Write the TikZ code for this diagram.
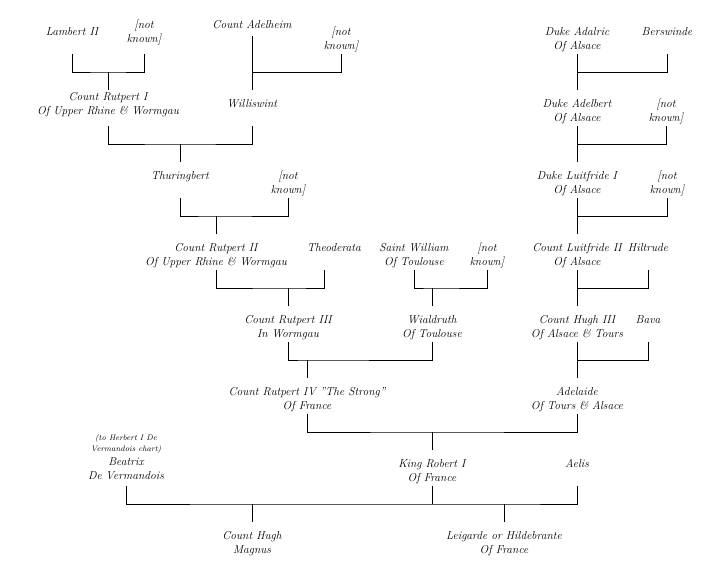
\documentclass[tikz,border=0pt]{standalone}
\usepackage{fontspec}
\newcommand\twoln[3][0]{\rule[-4.2pt]{0pt}{\dimexpr 22pt-#1pt\relax}#2\\\rule[\dimexpr-4.2pt-#1pt\relax]{0pt}{\dimexpr 14pt+#1pt\relax}#3}
\tikzset{
  person/.style={inner sep=0pt, outer sep=0pt, anchor=north, align=center,
    font=\fontsize{11.5}{14}\selectfont\itshape},
  notetext/.style={inner sep=0pt, outer sep=0pt, align=center,
    font=\fontsize{8}{11}\selectfont\itshape},
  link/.style={draw=black, line width=0.9pt}
}
\begin{document}
\begin{tikzpicture}[x=1pt,y=-1pt]
\fill[white] (0,0) rectangle (720,576);
\useasboundingbox (0,0) rectangle (720,576);
% row 1
\node[person] (lambert) at (72,18) {\twoln{Lambert II}{}};
\node[person] (nk1) at (144,18) {\twoln[7]{[not}{known]}};
\node[person, anchor=base] (adelheim) at (252,28.5) {\rule[-7.5pt]{0pt}{17pt}Count Adelheim};
\node[person] (nk2) at (341,18) {\twoln{[not}{known]}};
\node[person] (adalric) at (577,18) {\twoln{Duke Adalric}{Of Alsace}};
\node[person] (berswinde) at (667,18) {\twoln{Berswinde}{}};
% row 2
\node[person] (rutpert1) at (108,90) {\twoln[7]{Count Rutpert I}{Of Upper Rhine \& Wormgau}};
\node[person] (williswint) at (252,90) {\twoln{Williswint}{}};
\node[person] (adelbert) at (577,90) {\twoln{Duke Adelbert}{Of Alsace}};
\node[person] (nk3) at (666,90) {\twoln{[not}{known]}};
% row 3
\node[person] (thuringbert) at (180,162) {\twoln{Thuringbert}{}};
\node[person] (nk4) at (288,162) {\twoln{[not}{known]}};
\node[person] (luitfride1) at (577,162) {\twoln{Duke Luitfride I}{Of Alsace}};
\node[person] (nk5) at (667,162) {\twoln{[not}{known]}};
% row 4
\node[person] (rutpert2) at (216,234) {\twoln{Count Rutpert II}{Of Upper Rhine \& Wormgau}};
\node[person] (theoderata) at (334,234) {\twoln{Theoderata}{}};
\node[person] (william) at (414,234) {\twoln{Saint William}{Of Toulouse}};
\node[person] (nk6) at (487,234) {\twoln{[not}{known]}};
\node[person] (luitfride2) at (577,234) {\twoln{Count Luitfride II}{Of Alsace}};
\node[person] (hiltrude) at (648,234) {\twoln{Hiltrude}{}};
% row 5
\node[person] (rutpert3) at (288,306) {\twoln{Count Rutpert III}{In Wormgau}};
\node[person] (wialdruth) at (432,306) {\twoln{Wialdruth}{Of Toulouse}};
\node[person] (hugh3) at (577,306) {\twoln{Count Hugh III}{Of Alsace \& Tours}};
\node[person] (bava) at (648,306) {\twoln{Bava}{}};
% row 6
\node[person] (rutpert4) at (307,378) {\twoln{Count Rutpert IV "The Strong"}{Of France}};
\node[person] (adelaide) at (577,378) {\twoln{Adelaide}{Of Tours \& Alsace}};
% row 7
\node[notetext] (note) at (126,444) {(to Herbert I De\\Vermandois chart)};
\node[person] (beatrix) at (126,450) {\twoln[2]{Beatrix}{De Vermandois}};
\node[person] (robert) at (432,450) {\twoln{King Robert I}{Of France}};
\node[person] (aelis) at (577,450) {\twoln{Aelis}{}};
% row 8
\node[person] (hughm) at (252,522) {\twoln{Count Hugh}{Magnus}};
\node[person] (leigarde) at (504,522) {\twoln{Leigarde or Hildebrante}{Of France}};
% junctions
\coordinate (j1) at (108,72);
\coordinate (j2) at (252,72);
\coordinate (j3) at (180,144);
\coordinate (j4) at (216,216);
\coordinate (j5) at (288,288);
\coordinate (j6) at (432,288);
\coordinate (j7) at (307,360);
\coordinate (j8) at (432,432);
\coordinate (r1) at (577,72);
\coordinate (r2) at (577,144);
\coordinate (r3) at (577,216);
\coordinate (r4) at (577,288);
\coordinate (r5) at (577,360);
\coordinate (jb1) at (252,504);
\coordinate (jb2) at (504,504);
% left connectors
\draw[link] (lambert.south) |- (j1) -| (nk1.south);
\draw[link] (j1) -- (rutpert1.north);
\draw[link] (adelheim.south) -- (williswint.north);
\draw[link] (nk2.south) |- (j2);
\draw[link] (rutpert1.south) |- (j3) -| (williswint.south);
\draw[link] (j3) -- (thuringbert.north);
\draw[link] (thuringbert.south) |- (j4) -| (nk4.south);
\draw[link] (j4) -- (rutpert2.north);
\draw[link] (rutpert2.south) |- (j5) -| ([xshift=-10pt]theoderata.south);
\draw[link] (j5) -- (rutpert3.north);
\draw[link] (william.south) |- (j6) -| (nk6.south);
\draw[link] (j6) -- (wialdruth.north);
\draw[link] (rutpert3.south) |- (j7) -| (wialdruth.south);
\draw[link] (j7) -- (rutpert4.north);
\draw[link] (rutpert4.south) |- (j8) -| (adelaide.south);
\draw[link] (j8) -- (robert.north);
% right connectors
\draw[link] (adalric.south) -- (adelbert.north);
\draw[link] (berswinde.south) |- (r1);
\draw[link] (adelbert.south) -- (luitfride1.north);
\draw[link] (nk3.south) |- (r2);
\draw[link] (luitfride1.south) -- (luitfride2.north);
\draw[link] (nk5.south) |- (r3);
\draw[link] (luitfride2.south) -- (hugh3.north);
\draw[link] (hiltrude.south) |- (r4);
\draw[link] (hugh3.south) -- (adelaide.north);
\draw[link] (bava.south) |- (r5);
% bottom
\draw[link] (beatrix.south) |- (jb1) -- (jb2) -| (aelis.south);
\draw[link] (robert.south) -- (robert.south |- jb1);
\draw[link] (jb1) -- (hughm.north);
\draw[link] (jb2) -- (leigarde.north);
\end{tikzpicture}
\end{document}
